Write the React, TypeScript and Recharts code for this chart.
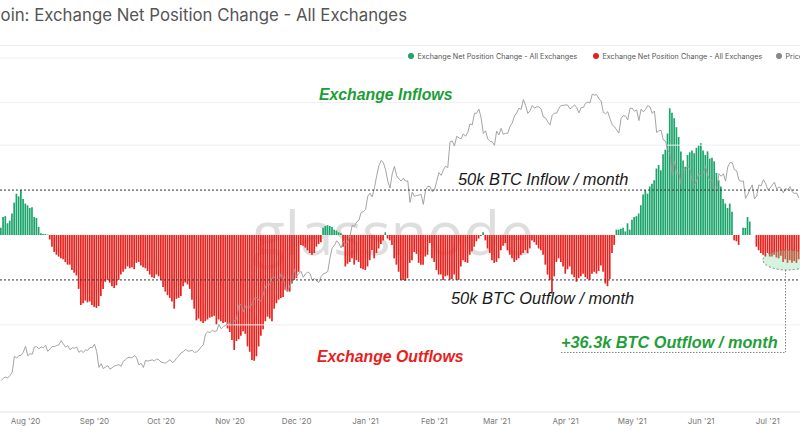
import React from 'react';
import { ComposedChart, Bar, Line, XAxis, YAxis, ReferenceLine, Cell } from 'recharts';

const TITLE = 'Bitcoin: Exchange Net Position Change - All Exchanges';
const SERIES_IN = 'Exchange Net Position Change - All Exchanges';
const SERIES_OUT = 'Exchange Net Position Change - All Exchanges';
const SERIES_PRICE = 'Price';
const START_DATE = '2020-07-21';

// daily net position change, thousand BTC (30d rolling)
const FLOWS_K = [
  8, 20, 21, 13, 16, 24, 36, 46, 43, 50, 40, 35, 33, 30, 31, 20, 19, 9, 2, 1, 1, 0.5,
  -5, -13, -19, -22, -24, -26, -27, -30,
  -33, -33, -39, -42, -45, -60, -78, -76, -73, -75,
  -74, -78, -80, -81, -79, -68, -60, -52, -50, -53,
  -57, -59, -56, -50, -44, -41, -38, -35, -37, -36,
  -38, -31, -30, -34, -36, -37, -40, -44, -47, -48,
  -44, -46, -50, -58, -63, -67, -70, -74, -82, -71,
  -70, -68, -57, -53, -55, -60, -72, -82, -95, -93,
  -96, -98, -96, -94, -92, -91, -90, -100, -94, -96,
  -98, -97, -104, -108, -117, -128, -118, -116, -112, -107,
  -110, -124, -130, -139, -140, -135, -124, -112, -105, -96,
  -91, -93, -96, -82, -76, -72, -70, -69, -61, -63,
  -63, -54, -50, -48, -41, -11, -12, -14, -17, -20,
  -22, -20, -13, -10, -8, 8, 10, 11, 10, 9,
  6, 5, 3, 2, -13, -35, -32, -30, -26, -33,
  -28, -30, -37, -38, -39, -35, -28, -17, -26, -20,
  -15, -10, -6, 3, -4, -6, -11, -26, -33, -41,
  -50, -50, -51, -48, -31, -28, -19, -21, -31, -33,
  -33, -24, -22, -9, -26, -30, -39, -44, -44, -50,
  -46, -45, -50, -49, -44, -50, -50, -35, -28, -30,
  -31, -22, -18, -13, -7, -4, -1, 3, -6, -15,
  -20, -28, -31, -30, -26, -17, -12, -9, -17, -22,
  -26, -30, -28, -26, -22, -20, -17, -20, -15, -6,
  -8, -11, -15, -17, -22, -33, -44, -50, -65, -46,
  -30, -26, -30, -35, -43, -38, -35, -44, -47, -52,
  -48, -46, -43, -47, -49, -50, -43, -41, -43, -40,
  -34, -41, -54, -57, -49, -20, -11, 6, 6, 7,
  8, 4, 13, 6, 17, 20, 21, 24, 33, 45,
  50, 46, 54, 57, 61, 74, 78, 72, 90, 95,
  113, 141, 136, 130, 120, 109, 93, 83, 76, 89,
  92, 94, 91, 97, 100, 102, 94, 89, 93, 85,
  86, 82, 69, 61, 54, 40, 35, 30, 35, 26,
  -6, -7, -11, 0, 8, 8, 20, 15, 0, 0,
  -13, -17, -20, -22, -24, -20, -24, -24, -22, -25,
  -26, -23, -30, -27, -31, -28, -31, -29, -31, -27,
];

// BTC price, thousand USD
const PRICES_K = [
  9.38, 9.53, 9.61, 9.55, 9.71, 9.93, 11.03, 10.91, 11.10, 11.11, 11.35,
  11.80, 11.07, 11.23, 11.19, 11.74, 11.77, 11.60, 11.75, 11.68, 11.88, 11.41, 11.58, 11.78, 11.77, 11.86, 11.91, 12.25, 11.99, 11.73, 11.86, 11.52, 11.68, 11.65, 11.75, 11.33, 11.46, 11.32, 11.53, 11.48, 11.71, 11.68,
  11.97, 11.41, 10.25, 10.51, 10.17, 10.28, 10.37, 10.13, 10.23, 10.35, 10.39, 10.44, 10.33, 10.68, 10.79, 10.95, 10.94, 10.94, 11.09, 10.92, 10.42, 10.54, 10.24, 10.74, 10.69, 10.73, 10.78, 10.70, 10.84, 10.78,
  10.62, 10.57, 10.55, 10.67, 10.79, 10.60, 10.67, 10.92, 11.06, 11.30, 11.38, 11.55, 11.43, 11.43, 11.50, 11.33, 11.37, 11.50, 11.75, 11.92, 12.82, 12.99, 12.93, 13.12, 13.03, 13.07, 13.64, 13.27, 13.46, 13.56, 13.80,
  13.76, 13.55, 14.03, 14.16, 15.59, 15.58, 14.84, 15.48, 15.33, 15.31, 15.70, 16.28, 16.32, 16.07, 15.97, 16.73, 17.66, 17.80, 17.82, 18.68, 18.71, 18.42, 18.37, 19.16, 18.72, 17.15, 17.14, 17.72, 18.18, 19.70,
  18.80, 19.20, 19.45, 18.70, 19.15, 19.36, 19.17, 18.32, 18.55, 18.26, 18.06, 18.80, 19.14, 19.25, 19.44, 21.31, 22.80, 23.13, 23.87, 23.48, 22.75, 23.82, 23.24, 23.73, 24.71, 26.44, 26.28, 27.08, 27.36, 28.84, 29.00,
  29.37, 32.13, 32.78, 31.97, 33.99, 36.82, 39.37, 40.80, 40.25, 38.35, 35.55, 33.92, 37.32, 39.19, 36.83, 36.07, 35.55, 36.24, 35.55, 35.60, 30.82, 33.00, 32.10, 32.29, 32.37, 32.57, 30.43, 33.47, 34.32, 34.27, 33.11,
  33.51, 35.48, 37.62, 36.94, 38.29, 39.26, 38.90, 46.20, 46.48, 44.92, 47.91, 47.50, 47.11, 48.72, 47.94, 49.20, 52.15, 51.68, 55.89, 55.92, 57.49, 54.21, 48.82, 49.71, 47.09, 46.34, 46.19, 45.14,
  49.63, 48.38, 50.54, 48.56, 48.93, 48.91, 51.21, 52.38, 54.88, 56.00, 57.80, 57.33, 61.24, 59.00, 55.86, 56.80, 58.87, 57.86, 58.35, 58.35, 57.52, 54.53, 54.21, 52.77, 51.70, 55.14, 55.97, 55.95, 57.75, 58.92, 58.92,
  59.10, 59.00, 57.56, 58.18, 59.04, 58.10, 56.05, 58.03, 58.10, 59.77, 60.20, 59.89, 63.50, 63.11, 63.31, 61.57, 60.68, 56.22, 55.72, 56.47, 53.90, 51.76, 51.09, 50.05, 49.00, 54.02, 55.03, 54.82, 53.56, 57.75,
  57.83, 56.63, 57.21, 53.24, 57.47, 56.43, 57.38, 58.87, 58.28, 55.86, 56.75, 49.15, 49.72, 49.88, 46.76, 46.43, 43.54, 42.91, 36.96, 40.56, 37.30, 37.53, 34.77, 38.70, 38.40, 39.29, 38.53, 35.68, 34.63, 35.68, 37.34,
  36.69, 37.57, 39.19, 36.87, 35.52, 35.80, 33.57, 33.47, 37.34, 36.70, 37.33, 35.55, 39.10, 40.22, 40.17, 38.35, 38.09, 35.82, 35.48, 35.60, 31.68, 32.51, 33.68, 34.66, 31.59, 32.16, 34.64, 34.43, 35.87, 35.04,
  33.57, 33.90, 34.66, 35.29, 33.70, 34.22, 33.86, 32.88, 33.81, 33.52, 34.26, 33.09, 32.73, 32.82, 31.78,
];

const MONTH_TICKS = ['2020-08-01', '2020-09-01', '2020-10-01', '2020-11-01', '2020-12-01', '2021-01-01', '2021-02-01', '2021-03-01', '2021-04-01', '2021-05-01', '2021-06-01', '2021-07-01'];
const MONTH_LABELS = ["Aug '20", "Sep '20", "Oct '20", "Nov '20", "Dec '20", "Jan '21", "Feb '21", "Mar '21", "Apr '21", "May '21", "Jun '21", "Jul '21"];

const THRESHOLDS_K = [50, -50];
const GRID_FLOW_K = [100, -100];
const GRID_PRICE_K = [60];
const FLOW_DOMAIN = [-197, 197];
const PRICE_DOMAIN = [7.61, 80.84];

const GREEN = '#1ba56b';
const RED = '#e8211d';
const PRICE_COLOR = '#9a9a9a';

function dayString(offset: number): string {
  const d = new Date(START_DATE + 'T00:00:00Z');
  d.setUTCDate(d.getUTCDate() + offset);
  return d.toISOString().slice(0, 10);
}

const rows = FLOWS_K.map((v, i) => ({ date: dayString(i), flow: v, price: PRICES_K[i] }));

const labelFor = (d: string) => {
  const idx = MONTH_TICKS.indexOf(d);
  return idx >= 0 ? MONTH_LABELS[idx] : '';
};

const ANNOT_FONT = "'Liberation Sans', Arial, sans-serif";

export default function App() {
  return (
    <div style={{ position: 'fixed', left: 0, top: 0, width: 800, height: 445, overflow: 'hidden', background: '#fff' }}>
      <svg width={800} height={445} style={{ position: 'absolute', left: 0, top: 0 }}>
        <text x={393} y={255} textAnchor="middle" fontFamily="'Open Sans', sans-serif" fontSize={60} fill="#dedede">glassnode</text>
      </svg>
      <div style={{ position: 'absolute', left: 0, top: 0 }}>
        <ComposedChart width={800} height={445} data={rows} margin={{ top: 58, right: 0, bottom: 3, left: 0 }}>
          <XAxis
            dataKey="date"
            ticks={MONTH_TICKS}
            interval={0}
            tickFormatter={labelFor}
            axisLine={{ stroke: '#e2e2e2' }}
            tickLine={false}
            tickSize={3}
            tickMargin={3}
            height={30}
            tick={{ fontSize: 8, fill: '#777', fontFamily: 'Inter, sans-serif' }}
          />
          <YAxis yAxisId="flow" hide domain={FLOW_DOMAIN} allowDataOverflow />
          <YAxis yAxisId="price" orientation="right" hide scale="log" domain={PRICE_DOMAIN} allowDataOverflow />
          {GRID_FLOW_K.map((g) => (
            <ReferenceLine key={'gf' + g} yAxisId="flow" y={g} stroke="#efefef" />
          ))}
          {GRID_PRICE_K.map((g) => (
            <ReferenceLine key={'gp' + g} yAxisId="price" y={g} stroke="#efefef" />
          ))}
          <ReferenceLine yAxisId="flow" y={FLOW_DOMAIN[1]} stroke="#efefef" />
          <Bar yAxisId="flow" dataKey="flow" name={SERIES_IN} barSize={1.7} isAnimationActive={false}>
            {rows.map((r, i) => (
              <Cell key={i} fill={r.flow >= 0 ? GREEN : RED} />
            ))}
          </Bar>
          <Line yAxisId="price" dataKey="price" name={SERIES_PRICE} type="linear" stroke={PRICE_COLOR} strokeWidth={0.9} dot={false} isAnimationActive={false} />
          {THRESHOLDS_K.map((t) => (
            <ReferenceLine key={'t' + t} yAxisId="flow" y={t} stroke="#333" strokeDasharray="2 2" />
          ))}
        </ComposedChart>
      </div>
      <svg width={800} height={445} style={{ position: 'absolute', left: 0, top: 0, pointerEvents: 'none' }}>
        <text x={-29.4} y={21} fontFamily="Inter, sans-serif" fontSize={16.8} fill="#555">{TITLE}</text>
        <line x1={0} x2={800} y1={45.5} y2={45.5} stroke="#ececec" />
        <rect x={404} y={50} width={396} height={12} fill="#fff" />
        <circle cx={411} cy={56} r={3} fill={GREEN} />
        <text x={417.5} y={58.6} fontFamily="Inter, sans-serif" fontSize={7.2} fill="#555">{SERIES_IN}</text>
        <circle cx={596} cy={56} r={3} fill={RED} />
        <text x={602.5} y={58.6} fontFamily="Inter, sans-serif" fontSize={7.2} fill="#555">{SERIES_OUT}</text>
        <circle cx={779} cy={56} r={3} fill="#888" />
        <text x={785.5} y={58.6} fontFamily="Inter, sans-serif" fontSize={7.2} fill="#555">{SERIES_PRICE}</text>

        <text x={319} y={100} fontFamily={ANNOT_FONT} fontWeight="bold" fontStyle="italic" fontSize={15.8} fill="#1a9e35">Exchange Inflows</text>
        <text x={317} y={362} fontFamily={ANNOT_FONT} fontWeight="bold" fontStyle="italic" fontSize={15.8} fill={RED}>Exchange Outflows</text>
        <text x={458} y={185} fontFamily={ANNOT_FONT} fontStyle="italic" fontSize={16.4} fill="#1a1a1a">50k BTC Inflow / month</text>
        <text x={451} y={304} fontFamily={ANNOT_FONT} fontStyle="italic" fontSize={16.4} fill="#1a1a1a">50k BTC Outflow / month</text>
        <text x={561} y={348} fontFamily={ANNOT_FONT} fontWeight="bold" fontStyle="italic" fontSize={16.3} fill="#1f9f3a">+36.3k BTC Outflow / month</text>
        <line x1={561} x2={785} y1={352.5} y2={352.5} stroke="#888" strokeDasharray="1.5 1.5" />
        <line x1={785.5} x2={785.5} y1={270} y2={352} stroke="#888" strokeDasharray="1.5 1.5" />
        <ellipse cx={787} cy={260} rx={24} ry={10} fill="#7fd99a" fillOpacity={0.32} stroke="#666" strokeDasharray="2 2" strokeWidth={0.8} />
      </svg>
    </div>
  );
}
